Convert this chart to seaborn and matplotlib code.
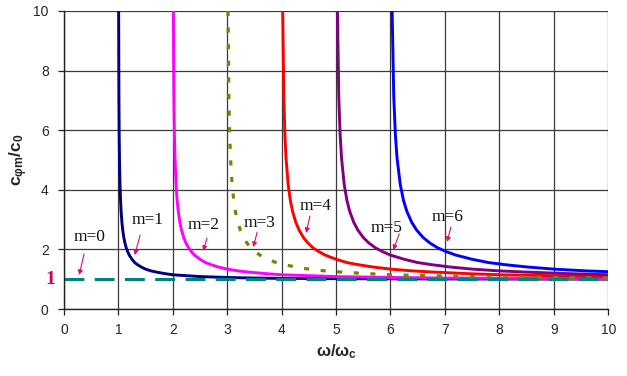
import matplotlib
matplotlib.use("Agg")
import matplotlib.pyplot as plt
import seaborn as sns

# Phase velocity ratio c_phi_m / c_0.
ratio = [10.0, 7.12, 5.84, 5.07, 4.17, 3.64, 3.28, 2.91, 2.65, 2.40, 2.22, 2.05,
         1.93, 1.81, 1.67, 1.56, 1.49, 1.41, 1.34, 1.28, 1.24, 1.19, 1.15, 1.12,
         1.09, 1.06, 1.04, 1.03, 1.02, 1.014, 1.01, 1.007, 1.005]

# omega / omega_c positions for each mode at the ratio levels above
x_m1 = [1.005, 1.01, 1.015, 1.02, 1.03, 1.04, 1.05, 1.065, 1.08, 1.1, 1.12, 1.145,
        1.17, 1.2, 1.25, 1.3, 1.35, 1.42, 1.5, 1.6, 1.7, 1.85, 2.0, 2.25,
        2.5, 3.0, 3.5, 4.0, 5.0, 6.0, 7.0, 8.5, 10.0]
x_m2 = [2.01, 2.02, 2.03, 2.04, 2.06, 2.08, 2.1, 2.13, 2.16, 2.2, 2.24, 2.29,
        2.34, 2.4, 2.5, 2.6, 2.7, 2.84, 3.0, 3.2, 3.4, 3.7, 4.0, 4.5,
        5.0, 6.0, 7.0, 8.0, 10.0]
x_m3 = [3.015, 3.03, 3.045, 3.06, 3.09, 3.12, 3.15, 3.195, 3.24, 3.3, 3.36, 3.435,
        3.51, 3.6, 3.75, 3.9, 4.05, 4.26, 4.5, 4.8, 5.1, 5.55, 6.0, 6.75,
        7.5, 9.0, 10.5]
x_m4 = [4.02, 4.04, 4.06, 4.08, 4.12, 4.16, 4.2, 4.26, 4.32, 4.4, 4.48, 4.58,
        4.68, 4.8, 5.0, 5.2, 5.4, 5.68, 6.0, 6.4, 6.8, 7.4, 8.0, 9.0, 10.0]
x_m5 = [5.025, 5.05, 5.075, 5.1, 5.15, 5.2, 5.25, 5.325, 5.4, 5.5, 5.6, 5.725,
        5.85, 6.0, 6.25, 6.5, 6.75, 7.1, 7.5, 8.0, 8.5, 9.25, 10.0]
x_m6 = [6.03, 6.06, 6.09, 6.12, 6.18, 6.24, 6.3, 6.39, 6.48, 6.6, 6.72, 6.87,
        7.02, 7.2, 7.5, 7.8, 8.1, 8.52, 9.0, 9.6, 10.2]

# m = 0 mode: phase velocity equals c_0
x_m0 = [0.0, 10.0]
y_m0 = [1.0, 1.0]

mode_labels = ["m=0", "m=1", "m=2", "m=3", "m=4", "m=5", "m=6"]
label_pos = [(0.48, 2.42), (1.53, 2.99), (2.56, 2.82), (3.60, 2.89),
             (4.63, 3.46), (5.92, 2.72), (7.04, 3.09)]
arrow_from = [(0.37, 1.85), (1.40, 2.48), (2.63, 2.38), (3.55, 2.58),
              (4.52, 3.12), (6.16, 2.52), (7.11, 2.75)]
arrow_to = [(0.28, 1.14), (1.30, 1.81), (2.56, 1.95), (3.48, 2.08),
            (4.45, 2.55), (6.05, 1.98), (7.04, 2.25)]

x_ticks = list(range(0, 11))
y_ticks = [0, 2, 4, 6, 8, 10]

sns.set_style("white")
plt.rcParams["font.family"] = ["Liberation Sans", "DejaVu Sans"]
plt.rcParams["mathtext.fontset"] = "custom"
plt.rcParams["mathtext.rm"] = "Liberation Sans"
plt.rcParams["mathtext.it"] = "Liberation Sans:italic"
plt.rcParams["mathtext.bf"] = "Liberation Sans:bold"

fig = plt.figure(figsize=(6.27, 3.76), dpi=100)
ax = fig.add_axes([0.102, 0.178, 0.868, 0.793])

lw = 2.1
sns.lineplot(x=x_m1, y=ratio[:len(x_m1)], ax=ax, color="#000080", lw=lw, sort=False)
sns.lineplot(x=x_m2, y=ratio[:len(x_m2)], ax=ax, color="#FF00FF", lw=lw, sort=False)
sns.lineplot(x=x_m4, y=ratio[:len(x_m4)], ax=ax, color="#FF0000", lw=lw, sort=False)
sns.lineplot(x=x_m5, y=ratio[:len(x_m5)], ax=ax, color="#800080", lw=lw, sort=False)
sns.lineplot(x=x_m6, y=ratio[:len(x_m6)], ax=ax, color="#0000FF", lw=lw, sort=False)
l3 = sns.lineplot(x=x_m3, y=ratio[:len(x_m3)], ax=ax, color="#808000", lw=2.3,
                  sort=False).lines[-1]
l3.set_dashes((1.6, 3.6))
l0 = sns.lineplot(x=x_m0, y=y_m0, ax=ax, color="#008080", lw=2.2, sort=False).lines[-1]
l0.set_dashes((6.5, 3.4))

ax.set_xlim(0, 10)
ax.set_ylim(0, 10)
ax.set_xticks(x_ticks)
ax.set_yticks(y_ticks)
ax.grid(True, color="#3a3a3a", lw=0.9)
ax.set_axisbelow(True)
for side in ["top", "right"]:
    ax.spines[side].set_visible(False)
for side in ["left", "bottom"]:
    ax.spines[side].set_color("#222222")
    ax.spines[side].set_linewidth(1.0)
ax.tick_params(axis="both", which="major", direction="out", length=4, width=0.9,
               color="#222222", labelsize=10, pad=7, bottom=True, left=True)
ax.tick_params(axis="x", pad=6)

ax.set_xlabel(r"$\mathbf{\omega/\omega_c}$", fontsize=12, labelpad=4)
ax.set_ylabel(r"$\mathbf{c_{\varphi m}/c_0}$", fontsize=12.5)
ax.yaxis.set_label_coords(-0.0625, 0.5)

# highlighted unit level on the y axis
ax.text(-0.17, 1.0, "1", transform=ax.transData, ha="right", va="center",
        fontsize=14, fontweight="bold", color="#CC0066",
        family=["Liberation Serif", "DejaVu Serif"])

for lab, pos, a0, a1 in zip(mode_labels, label_pos, arrow_from, arrow_to):
    ax.text(pos[0], pos[1], lab, ha="center", va="center", fontsize=12.5,
            family=["Liberation Serif", "DejaVu Serif"], color="#111111")
    ax.annotate("", xy=a1, xytext=a0,
                arrowprops=dict(arrowstyle="-|>", color="#D6106E", lw=0.8,
                                mutation_scale=7, shrinkA=0, shrinkB=0))

fig.savefig("out.png", dpi=100)
